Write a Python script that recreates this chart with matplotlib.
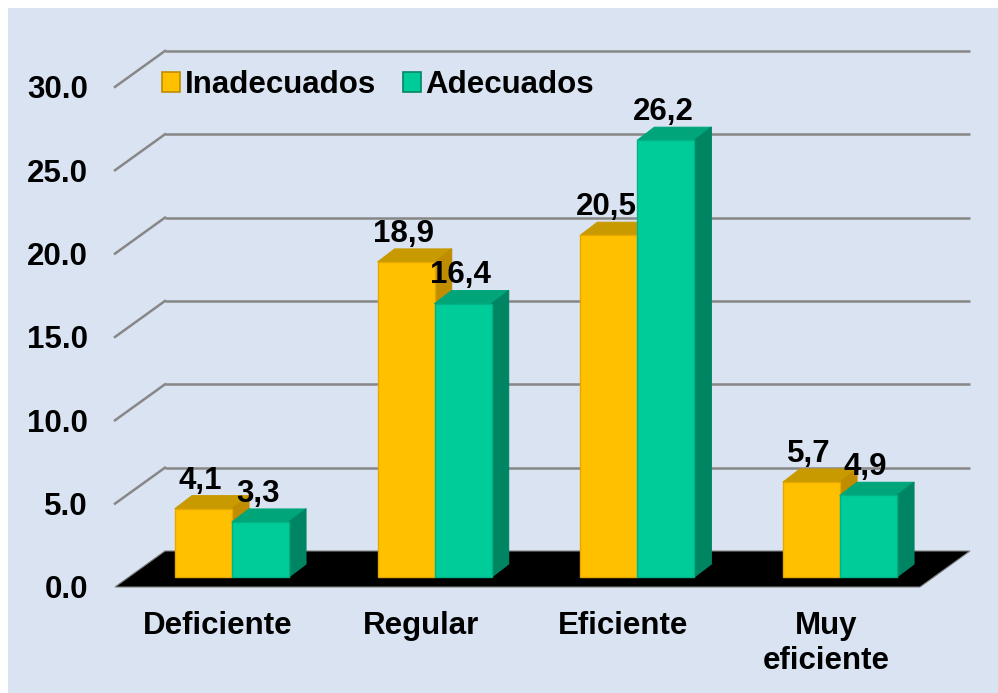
import matplotlib
matplotlib.use("Agg")
import matplotlib.pyplot as plt
from matplotlib.patches import Polygon, Rectangle, Patch

categories = ["Deficiente", "Regular", "Eficiente", "Muy\neficiente"]
series_names = ["Inadecuados", "Adecuados"]
inadecuados = [4.1, 18.9, 20.5, 5.7]
adecuados = [3.3, 16.4, 26.2, 4.9]
value_labels_in = ["4,1", "18,9", "20,5", "5,7"]
value_labels_ad = ["3,3", "16,4", "26,2", "4,9"]
yticks = [0, 5, 10, 15, 20, 25, 30]
ytick_labels = ["0.0", "5.0", "10.0", "15.0", "20.0", "25.0", "30.0"]

FONT = "Liberation Sans"
FS = 22.5
BG = "#DAE3F2"

W, H = 998, 693
fig = plt.figure(figsize=(W / 100, H / 100), dpi=100)
fig.patch.set_facecolor("white")
fig.patches.append(Rectangle((8 / W, 0), 1 - 8 / W, 1 - 8 / H, transform=fig.transFigure,
                             facecolor=BG, edgecolor="none", zorder=-10))

# axes = bar plane
ax_left, ax_right, ax_bot = 129, 934, 577
px_per_x = 202.67
px_per_y = 16.67
cx0 = 232
xlim = ((ax_left - cx0) / px_per_x, (ax_right - cx0) / px_per_x)
ylim = (0, 33)
ax = fig.add_axes([ax_left / W, (H - ax_bot) / H, (ax_right - ax_left) / W,
                   (ylim[1] * px_per_y) / H])
ax.set_xlim(*xlim)
ax.set_ylim(*ylim)
ax.set_facecolor("none")
for s in ax.spines.values():
    s.set_visible(False)

def dx(px):
    return px / px_per_x

def dy(px):
    return px / px_per_y

# plane offsets (data units)
fx, fy = dx(-14), dy(-10)   # front plane
bx, by = dx(36), dy(26)     # back wall

# floor
floor = Polygon([(xlim[0] + fx, fy), (xlim[1] + fx, fy), (xlim[1] + bx, by), (xlim[0] + bx, by)],
                closed=True, facecolor="black", edgecolor="#7f7f7f", lw=0.8, zorder=1, clip_on=False)
ax.add_patch(floor)

# gridlines on back wall + diagonal on side
grid_c = "#878787"
for v in yticks[1:]:
    ax.plot([xlim[0] + bx, xlim[1] + bx], [v + by, v + by], color=grid_c, lw=1.8,
            zorder=0.5, clip_on=False, solid_capstyle="butt")
    ax.plot([xlim[0] + fx, xlim[0] + bx], [v + fy, v + by], color=grid_c, lw=1.8,
            zorder=0.5, clip_on=False)

# bars
bw = 57 / px_per_x
ddx, ddy = dx(17), dy(13)
colors = [
    dict(front="#FFC000", top="#C99A00", side="#C08C00", edge="#E6A800"),
    dict(front="#00CC99", top="#00A57A", side="#008563", edge="#00B386"),
]

def draw_bar(xc, h, c, z):
    x0, x1 = xc - bw / 2, xc + bw / 2
    top = Polygon([(x0, h), (x1, h), (x1 + ddx, h + ddy), (x0 + ddx, h + ddy)], closed=True,
                  facecolor=c["top"], edgecolor=c["top"], lw=0.8, zorder=z, clip_on=False,
                  joinstyle="round")
    side = Polygon([(x1, 0), (x1 + ddx, ddy), (x1 + ddx, h + ddy), (x1, h)], closed=True,
                   facecolor=c["side"], edgecolor=c["side"], lw=0.8, zorder=z, clip_on=False,
                   joinstyle="round")
    ax.add_patch(top)
    ax.add_patch(side)

for i in range(len(categories)):
    xs = [i - bw / 2, i + bw / 2]
    for j, (vals, labs) in enumerate([(inadecuados, value_labels_in), (adecuados, value_labels_ad)]):
        z = 3 + 2 * j
        draw_bar(xs[j], vals[i], colors[j], z)
        ax.bar(xs[j], vals[i], width=bw, color=colors[j]["front"], edgecolor=colors[j]["edge"],
               lw=1.0, zorder=z + 0.5, clip_on=False)
        ax.annotate(labs[i], (xs[j], vals[i]), xytext=(-2, 14.5), textcoords="offset points",
                    ha="center", va="baseline", fontsize=FS, fontweight="bold",
                    family=FONT, zorder=10, annotation_clip=False)

# y tick labels at the front plane
for v, lab in zip(yticks, ytick_labels):
    ax.text(xlim[0] + fx - dx(27), v + fy, lab, ha="right", va="center_baseline",
            fontsize=FS, fontweight="bold", family=FONT)

# category labels at the front plane
for i, lab in enumerate(categories):
    ax.text(i + fx, fy - dy(24), lab, ha="center", va="top", fontsize=FS,
            fontweight="bold", family=FONT, linespacing=1.2, multialignment="center")

ax.set_xticks([])
ax.set_yticks([])

# legend
handles = [Patch(facecolor=colors[j]["front"], edgecolor=colors[j]["side"], lw=1.2) for j in range(2)]
leg = fig.legend(handles, series_names, loc="upper left", bbox_to_anchor=(162 / W, 1 - 70 / H),
                 ncol=2, frameon=False, handlelength=0.58, handleheight=0.58, handletextpad=0.15,
                 columnspacing=0.85, prop=dict(family=FONT, weight="bold", size=FS),
                 borderaxespad=0, borderpad=0)

fig.savefig("out.png", dpi=100, facecolor=fig.get_facecolor())
